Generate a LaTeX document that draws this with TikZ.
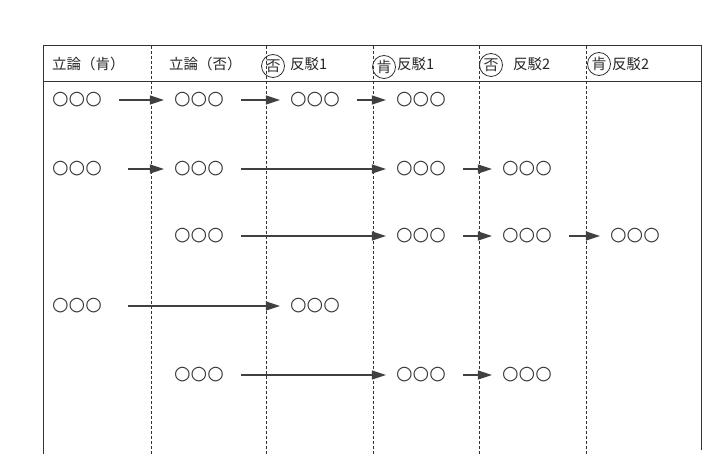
\documentclass[tikz,border=0pt]{standalone}
\usepackage{fontspec}
\setmainfont{Noto Sans CJK JP}
\newfontfamily\symfont{DejaVu Sans}
\usetikzlibrary{arrows.meta}
\begin{document}
\begin{tikzpicture}[x=1pt,y=-1pt,
  frameline/.style={line width=1pt, draw=black!80},
  divider/.style={line width=0.6pt, draw=black!80, dash pattern=on 3pt off 2pt},
  ooo/.style={font=\symfont\fontsize{19}{19}\selectfont, inner sep=0pt, text=black!80},
  hdr/.style={font=\fontsize{14.5}{15}\selectfont, inner sep=0pt, anchor=west, text=black!85},
  circmark/.style={draw=black!80, line width=0.8pt, circle, inner sep=0pt, minimum size=23pt,
                   font=\fontsize{15}{15}\selectfont, text=black!80},
  arr/.style={-{Triangle[length=14pt,width=9pt]}, line width=1.2pt, draw=black!75,
              shorten <=17pt, shorten >=10pt}
]
\useasboundingbox (0,0) rectangle (715,454);
\fill[white] (0,0) rectangle (715,454);

% frame
\draw[frameline] (43,454) -- (43,46) -- (701,46) -- (701,450);
\draw[frameline] (43,82) -- (701,82);
% dividers
\foreach \x in {151,266,373,479,586} \draw[divider] (\x,46) -- (\x,454);

% header
\node[hdr] (h1) at (52,64) {立論（肯）};
\node[hdr] (h2) at (169,64) {立論（否）};
\node[circmark] (m3) at (273,66) {否};
\node[hdr] (h3) at (290,64) {反駁1};
\node[circmark] (m4) at (384,67) {肯};
\node[hdr] (h4) at (397,64) {反駁1};
\node[circmark] (m5) at (491,65) {否};
\node[hdr] (h5) at (513,64) {反駁2};
\node[circmark] (m6) at (599,64) {肯};
\node[hdr] (h6) at (612,64) {反駁2};

% row 1
\node[ooo] (a1) at (77,100) {○○○};
\node[ooo] (a2) at (199,100) {○○○};
\node[ooo] (a3) at (315,100) {○○○};
\node[ooo] (a4) at (421,100) {○○○};
% row 2
\node[ooo] (b1) at (77,169) {○○○};
\node[ooo] (b2) at (199,169) {○○○};
\node[ooo] (b4) at (421,169) {○○○};
\node[ooo] (b5) at (527,169) {○○○};
% row 3
\node[ooo] (c2) at (199,236) {○○○};
\node[ooo] (c4) at (421,236) {○○○};
\node[ooo] (c5) at (527,236) {○○○};
\node[ooo] (c6) at (635,236) {○○○};
% row 4
\node[ooo] (d1) at (77,306) {○○○};
\node[ooo] (d3) at (315,306) {○○○};
% row 5
\node[ooo] (e2) at (199,375) {○○○};
\node[ooo] (e4) at (421,375) {○○○};
\node[ooo] (e5) at (527,375) {○○○};

% arrows
\draw[arr] (a1) -- (a2);
\draw[arr] (a2) -- (a3);
\draw[arr] (a3) -- (a4);
\draw[arr, shorten <=26pt] (b1) -- (b2);
\draw[arr] (b2) -- (b4);
\draw[arr] (b4) -- (b5);
\draw[arr] (c2) -- (c4);
\draw[arr] (c4) -- (c5);
\draw[arr] (c5) -- (c6);
\draw[arr, shorten <=26pt] (d1) -- (d3);
\draw[arr] (e2) -- (e4);
\draw[arr] (e4) -- (e5);
\end{tikzpicture}
\end{document}
